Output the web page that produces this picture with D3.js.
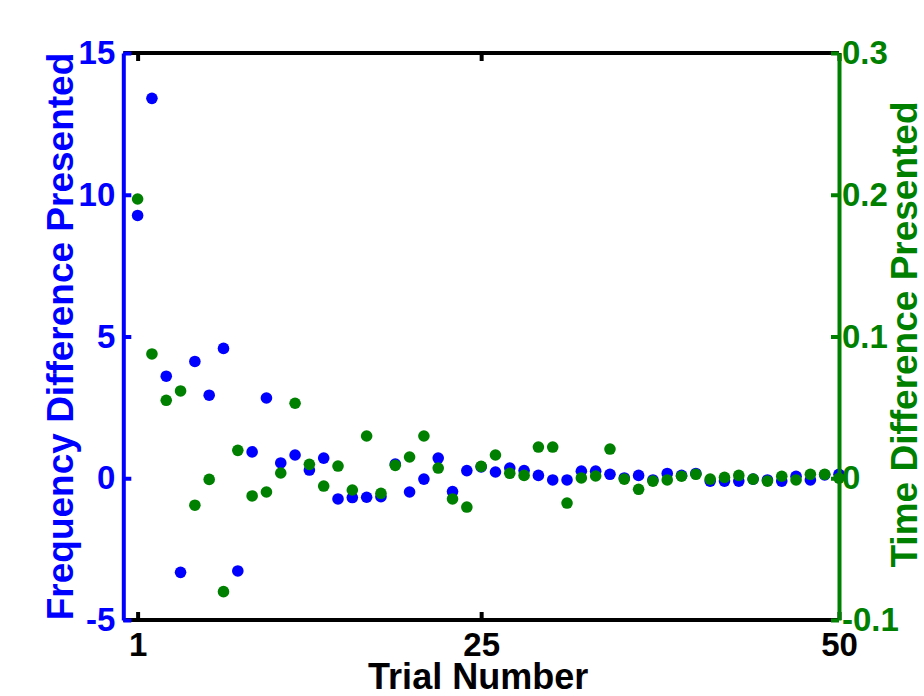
<!DOCTYPE html>
<html>
<head>
<meta charset="utf-8">
<script src="https://cdn.jsdelivr.net/npm/d3@7"></script>
<style>
  html, body { margin: 0; padding: 0; background: #fff; }
  svg { display: block; }
  text { font-family: "Liberation Sans", Arial, Helvetica, sans-serif; font-weight: bold; }
</style>
</head>
<body>
<div id="chart"></div>
<script>
// ---- Data ----
const trials = d3.range(1, 51);
const freqDiff = [
  9.27, 13.4, 3.6, -3.32, 4.12, 2.93, 4.58, -3.27, 0.93, 2.83,
  0.54, 0.82, 0.29, 0.71, -0.73, -0.68, -0.67, -0.65, 0.50, -0.485,
  -0.03, 0.71, -0.47, 0.27, 0.40, 0.22, 0.36, 0.27, 0.10, -0.06,
  -0.06, 0.25, 0.25, 0.14, 0.01, 0.10, -0.06, 0.17, 0.10, 0.17,
  -0.10, -0.10, -0.10, -0.03, -0.06, -0.10, 0.07, -0.06, 0.12, 0.14
];
const timeDiff = [
  0.197, 0.0877, 0.055, 0.0616, -0.019, -0.0008, -0.080, 0.0197, -0.0125, -0.0097,
  0.0037, 0.0529, 0.0098, -0.0055, 0.0086, -0.0083, 0.0298, -0.0106, 0.0091, 0.015,
  0.0298, 0.0072, -0.0146, -0.0203, 0.0084, 0.0164, 0.0035, 0.002, 0.022, 0.022,
  -0.0175, 0.0002, 0.0016, 0.0206, -0.0006, -0.0078, -0.002, -0.0012, 0.0014, 0.0028,
  -0.0006, 0.0006, 0.002, -0.0006, -0.002, 0.0014, -0.0012, 0.0028, 0.0028, 0.0
];
const xTicks = [1, 25, 50];
const yLeftTicks = [-5, 0, 5, 10, 15];
const yRightTicks = [-0.1, 0, 0.1, 0.2, 0.3];
const yLeftTickLabels = ["-5", "0", "5", "10", "15"];
const yRightTickLabels = ["-0.1", "0", "0.1", "0.2", "0.3"];
const xLabel = "Trial Number";
const yLeftLabel = "Frequency Difference Presented";
const yRightLabel = "Time Difference Presented";

// ---- Layout ----
const W = 924, H = 696;
const pL = 123.3, pR = 839, pT = 53, pB = 620;
const BLUE = "#0000ff", GREEN = "#008000";

const svg = d3.select("#chart").append("svg").attr("width", W).attr("height", H);

const x = d3.scaleLinear().domain([0, 50]).range([pL, pR]);
const yL = d3.scaleLinear().domain([-5, 15]).range([pB, pT]);
const yR = d3.scaleLinear().domain([-0.1, 0.3]).range([pB, pT]);

// ---- Points ----
const pts = trials.map((t, i) => ({ t, f: freqDiff[i], d: timeDiff[i] }));
svg.append("g").selectAll("circle").data(pts).join("circle")
  .attr("cx", d => x(d.t)).attr("cy", d => yL(d.f)).attr("r", 5.8).attr("fill", BLUE);
svg.append("g").selectAll("circle").data(pts).join("circle")
  .attr("cx", d => x(d.t)).attr("cy", d => yR(d.d)).attr("r", 5.8).attr("fill", GREEN);

// ---- Axes ----
const lw = 4;
function style(g, color, fs) {
  g.select(".domain").attr("stroke", color).attr("stroke-width", lw);
  g.selectAll(".tick line").attr("stroke", color).attr("stroke-width", lw);
  g.selectAll(".tick text").attr("fill", color).attr("font-size", fs)
    .attr("font-family", "'Liberation Sans', Arial, Helvetica, sans-serif").attr("font-weight", "bold");
}

// top (no labels)
const gTop = svg.append("g").attr("transform", `translate(0,${pT})`)
  .call(d3.axisTop(x).tickValues(xTicks).tickSizeInner(-8).tickSizeOuter(0).tickFormat(""));
style(gTop, "#000", 33);
gTop.select(".domain").attr("d", `M${pL},0H${pR}`);

// bottom
const gBot = svg.append("g").attr("transform", `translate(0,${pB})`)
  .call(d3.axisBottom(x).tickValues(xTicks).tickSizeInner(-8).tickSizeOuter(0).tickPadding(13).tickFormat(d => String(d)));
style(gBot, "#000", 33);
gBot.select(".domain").attr("d", `M${pL},0H${pR}`);

// left
const gL = svg.append("g").attr("transform", `translate(${pL},0)`)
  .call(d3.axisLeft(yL).tickValues(yLeftTicks).tickSizeInner(-8).tickSizeOuter(0).tickPadding(8)
    .tickFormat((d, i) => yLeftTickLabels[i]));
style(gL, BLUE, 33);

// right
const gR = svg.append("g").attr("transform", `translate(${pR},0)`)
  .call(d3.axisRight(yR).tickValues(yRightTicks).tickSizeInner(-8).tickSizeOuter(0).tickPadding(3)
    .tickFormat((d, i) => yRightTickLabels[i]));
style(gR, GREEN, 33);

// ---- Labels ----
svg.append("text").attr("x", (pL + pR) / 2 - 3).attr("y", 689)
  .attr("text-anchor", "middle").attr("font-size", 36).attr("fill", "#000").text(xLabel);

svg.append("text").attr("transform", `translate(73,${(pT + pB) / 2}) rotate(-90)`)
  .attr("text-anchor", "middle").attr("font-size", 37).attr("fill", BLUE).text(yLeftLabel);

svg.append("text").attr("transform", `translate(917,${(pT + pB) / 2 - 2}) rotate(-90)`)
  .attr("text-anchor", "middle").attr("font-size", 37).attr("fill", GREEN).text(yRightLabel);
</script>
</body>
</html>
